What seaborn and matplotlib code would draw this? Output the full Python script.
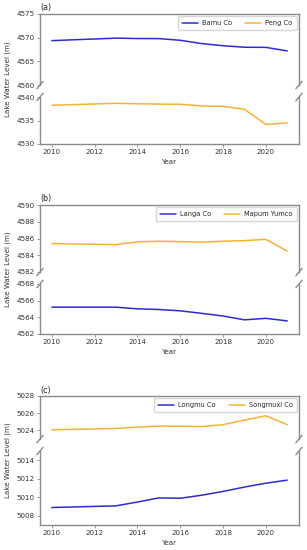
import matplotlib
matplotlib.use("Agg")
import matplotlib.pyplot as plt
import seaborn as sns
import pandas as pd

sns.set_style("ticks")
plt.rcParams['font.family'] = ['DejaVu Sans']

years = [2010, 2011, 2012, 2013, 2014, 2015, 2016, 2017, 2018, 2019, 2020, 2021]

bamu_co = [4569.37, 4569.55, 4569.72, 4569.9, 4569.82, 4569.8, 4569.45, 4568.75, 4568.3, 4567.98, 4567.95, 4567.2]
peng_co = [4538.24, 4538.38, 4538.52, 4538.66, 4538.55, 4538.5, 4538.45, 4538.1, 4538.0, 4537.4, 4534.15, 4534.5]

langa_co = [4565.22, 4565.22, 4565.22, 4565.22, 4565.02, 4564.94, 4564.78, 4564.48, 4564.16, 4563.7, 4563.88, 4563.57]
mapum_yumco = [4585.39, 4585.35, 4585.31, 4585.27, 4585.6, 4585.67, 4585.63, 4585.55, 4585.67, 4585.75, 4585.9, 4584.5]

longmu_co = [5008.89, 5008.95, 5009.01, 5009.07, 5009.48, 5009.93, 5009.89, 5010.22, 5010.63, 5011.1, 5011.52, 5011.85]
songmuxi_co = [5024.07, 5024.12, 5024.17, 5024.22, 5024.38, 5024.5, 5024.48, 5024.44, 5024.67, 5025.2, 5025.7, 5024.67]

panel_labels = ["(a)", "(b)", "(c)"]
blue_names = ["Bamu Co", "Langa Co", "Longmu Co"]
orange_names = ["Peng Co", "Mapum Yumco", "Songmuxi Co"]

BLUE = "#2b2bd6"
ORANGE = "#f5b335"
SPINE = "#8a8a8a"
TXT = "#333333"

W, H = 307, 550
fig = plt.figure(figsize=(W / 100, H / 100), dpi=100)

def add_ax(x0, x1, ytop, ybot):
    return fig.add_axes([x0 / W, 1 - ybot / H, (x1 - x0) / W, (ybot - ytop) / H])

panels = [
    dict(top=(14, 85), bot=(97, 144), topy=(4560, 4575), boty=(4530, 4540),
         topticks=[4560, 4565, 4570, 4575], botticks=[4530, 4535, 4540],
         blue=bamu_co, orange=peng_co),
    dict(top=(205, 272), bot=(284, 334), topy=(4582, 4590), boty=(4562, 4568),
         topticks=[4582, 4584, 4586, 4588, 4590], botticks=[4562, 4564, 4566, 4568],
         blue=langa_co, orange=mapum_yumco),
    dict(top=(396, 439), bot=(451, 525), topy=(5023, 5028), boty=(5007, 5015),
         topticks=[5024, 5026, 5028], botticks=[5008, 5010, 5012, 5014],
         blue=longmu_co, orange=songmuxi_co),
]

X0, X1 = 40, 299
fs = 5.1

for i, p in enumerate(panels):
    axt = add_ax(X0, X1, *p["top"])
    axb = add_ax(X0, X1, *p["bot"])
    df_b = pd.DataFrame({"Year": years, "Level": p["blue"]})
    df_o = pd.DataFrame({"Year": years, "Level": p["orange"]})
    for ax in (axt, axb):
        sns.lineplot(data=df_b, x="Year", y="Level", ax=ax, color=BLUE, lw=1.1, label=blue_names[i])
        sns.lineplot(data=df_o, x="Year", y="Level", ax=ax, color=ORANGE, lw=1.1, label=orange_names[i])
        ax.set_xlim(2009.45, 2021.55)
        ax.set_ylabel("")
        for s in ax.spines.values():
            s.set_color(SPINE)
            s.set_linewidth(1.0)
        ax.tick_params(labelsize=fs, colors=TXT, length=2.2, width=0.6, pad=1.5)
        ax.tick_params(axis="both", color=SPINE)
    axt.set_ylim(*p["topy"])
    axb.set_ylim(*p["boty"])
    axt.set_yticks(p["topticks"])
    axb.set_yticks(p["botticks"])
    axt.set_xticks([2010, 2012, 2014, 2016, 2018, 2020])
    axb.set_xticks([2010, 2012, 2014, 2016, 2018, 2020])
    axt.spines["bottom"].set_visible(False)
    axb.spines["top"].set_visible(False)
    axt.tick_params(axis="x", bottom=False, labelbottom=False)
    axt.set_xlabel("")
    axb.set_xlabel("Year", fontsize=fs, color=TXT, labelpad=3)
    axb.get_legend().remove()
    axt.legend(loc="upper right", ncol=2, fontsize=4.8, frameon=True,
               handlelength=2.4, handletextpad=0.6, columnspacing=2.0, borderpad=0.6,
               fancybox=True, edgecolor="#cccccc", borderaxespad=0.35)
    axt.text(0.0, 1.025, panel_labels[i], transform=axt.transAxes, fontsize=5.8,
             color="#222222", ha="left", va="bottom")
    # break marks
    d = 0.012
    for ax, ypos in ((axt, 0.0), (axb, 1.0)):
        h_ax = ax.get_position().height * H
        dy = d * (X1 - X0) / h_ax * 1.2
        kw = dict(transform=ax.transAxes, color=SPINE, clip_on=False, lw=1.0)
        ax.plot((-d, d), (ypos - dy, ypos + dy), **kw)
        ax.plot((1 - d, 1 + d), (ypos - dy, ypos + dy), **kw)
    ymid = (p["top"][0] + p["bot"][1]) / 2
    fig.text(7.5 / W, 1 - ymid / H, "Lake Water Level (m)", rotation=90,
             ha="center", va="center", fontsize=fs, color=TXT)

fig.savefig("out.png", dpi=100)
